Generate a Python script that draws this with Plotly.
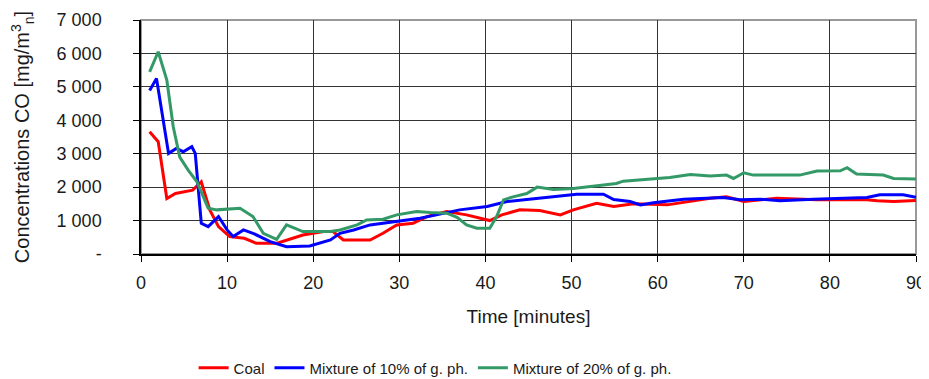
import plotly.graph_objects as go

coal_t = [1, 2, 3, 4, 6, 7, 8, 9, 10.3, 12, 13.4, 15.8, 18.8, 21.2, 22.3, 23.5, 26.6, 28.1, 29.7, 31.6, 33.2, 35.5, 37.8, 40.5, 41.9, 44, 46.3, 48.7, 50.2, 52.9, 54.9, 57.2, 61.1, 63.4, 66.1, 68, 70, 73.8, 78.5, 84.3, 85.5, 87.4, 90]
coal_y = [3660, 3360, 1660, 1810, 1910, 2160, 1310, 820, 520, 470, 320, 320, 570, 670, 670, 420, 420, 620, 870, 920, 1120, 1270, 1170, 1000, 1170, 1320, 1300, 1170, 1320, 1520, 1420, 1500, 1470, 1570, 1670, 1710, 1570, 1670, 1620, 1620, 1590, 1570, 1600]

mix10_t = [1, 1.8, 3.2, 4.1, 4.9, 5.9, 6.3, 7.0, 7.8, 9.0, 10, 10.7, 11.9, 13, 15, 16.9, 19.6, 22, 23.1, 24.7, 26.6, 29.7, 32.4, 34.3, 37, 40.2, 42.5, 44.8, 47.9, 50.6, 53.7, 54.9, 56.8, 58, 59.5, 63, 67.6, 69.6, 71.9, 74.2, 78.1, 84.3, 85.8, 88.5, 90]
mix10_y = [4890, 5250, 3010, 3160, 3060, 3210, 3010, 920, 820, 1120, 720, 520, 720, 620, 370, 220, 240, 420, 620, 720, 870, 970, 1070, 1170, 1320, 1420, 1570, 1630, 1710, 1790, 1790, 1630, 1570, 1470, 1530, 1640, 1690, 1620, 1640, 1590, 1640, 1690, 1770, 1770, 1700]

mix20_t = [1, 2, 3, 3.75, 4.5, 5.5, 6.5, 7.8, 8.8, 11.5, 13, 14.2, 15.75, 16.9, 18.8, 22, 23.1, 25.1, 26.2, 28.1, 29.7, 32, 33.6, 35.5, 36.7, 37.8, 39, 40.5, 41.3, 42.1, 43.2, 44.8, 46, 47.9, 50.2, 53.3, 55.2, 56, 58.3, 59.9, 61.4, 63.8, 66.1, 68, 68.8, 70, 71.1, 76.5, 78.5, 81.2, 82, 83.1, 86.2, 87.4, 90]
mix20_y = [5450, 6050, 5200, 3800, 2900, 2500, 2160, 1370, 1320, 1370, 1120, 620, 440, 870, 670, 670, 720, 870, 1020, 1040, 1170, 1270, 1240, 1220, 1100, 870, 770, 770, 1120, 1620, 1710, 1810, 2000, 1930, 1960, 2060, 2110, 2180, 2230, 2260, 2290, 2380, 2330, 2360, 2260, 2430, 2360, 2360, 2480, 2490, 2580, 2390, 2360, 2260, 2240]

y_tickvals = [0, 1000, 2000, 3000, 4000, 5000, 6000, 7000]
y_ticktext = ["-", "1 000", "2 000", "3 000", "4 000", "5 000", "6 000", "7 000"]
x_tickvals = [0, 10, 20, 30, 40, 50, 60, 70, 80, 90]

font = "Liberation Sans, Arial, sans-serif"
txt = "#1a1a1a"

fig = go.Figure()
fig.add_trace(go.Scatter(x=coal_t, y=coal_y, mode="lines", name="Coal",
                         line=dict(color="#ff0000", width=3)))
fig.add_trace(go.Scatter(x=mix10_t, y=mix10_y, mode="lines", name="Mixture of 10% of g. ph.",
                         line=dict(color="#0000ff", width=3)))
fig.add_trace(go.Scatter(x=mix20_t, y=mix20_y, mode="lines", name="Mixture of 20% of g. ph.",
                         line=dict(color="#339966", width=3)))

fig.add_shape(type="rect", xref="paper", yref="paper", x0=0, y0=0, x1=1, y1=1,
              line=dict(color="#999999", width=2), layer="below")

# page body has an 8px default margin, so the figure is sized to fit the 929x379 window
fig.update_layout(
    width=921, height=371,
    margin=dict(l=133, r=13, t=12, b=125, autoexpand=False),
    paper_bgcolor="white", plot_bgcolor="white",
    showlegend=True,
    legend=dict(orientation="h", x=0.3795, xanchor="center", y=-0.487, yanchor="middle",
                font=dict(family=font, size=15, color=txt), itemwidth=30,
                traceorder="normal"),
    xaxis=dict(range=[0, 90], tickvals=x_tickvals, showgrid=True, gridcolor="#333333", gridwidth=1.3,
               showline=True, linecolor="#000", linewidth=1.5, ticks="outside", ticklen=6,
               tickcolor="#000", zeroline=False, automargin=False, ticklabelstandoff=6,
               tickfont=dict(family=font, size=18, color=txt),
               title=dict(text="Time [minutes]", font=dict(family=font, size=19, color=txt), standoff=17)),
    yaxis=dict(range=[0, 7000], tickvals=y_tickvals, ticktext=y_ticktext, showgrid=True,
               gridcolor="#333333", gridwidth=1.3, showline=True, linecolor="#000", linewidth=1.5,
               ticks="outside", ticklen=6, tickcolor="#000", zeroline=False, automargin=False,
               ticklabelstandoff=28,
               tickfont=dict(family=font, size=18, color=txt),
               title=dict(text="Concentrations CO [mg/m<sup>3</sup><sub>n</sub>]",
                          font=dict(family=font, size=20, color=txt), standoff=28)),
)

fig.write_html("out.html")
